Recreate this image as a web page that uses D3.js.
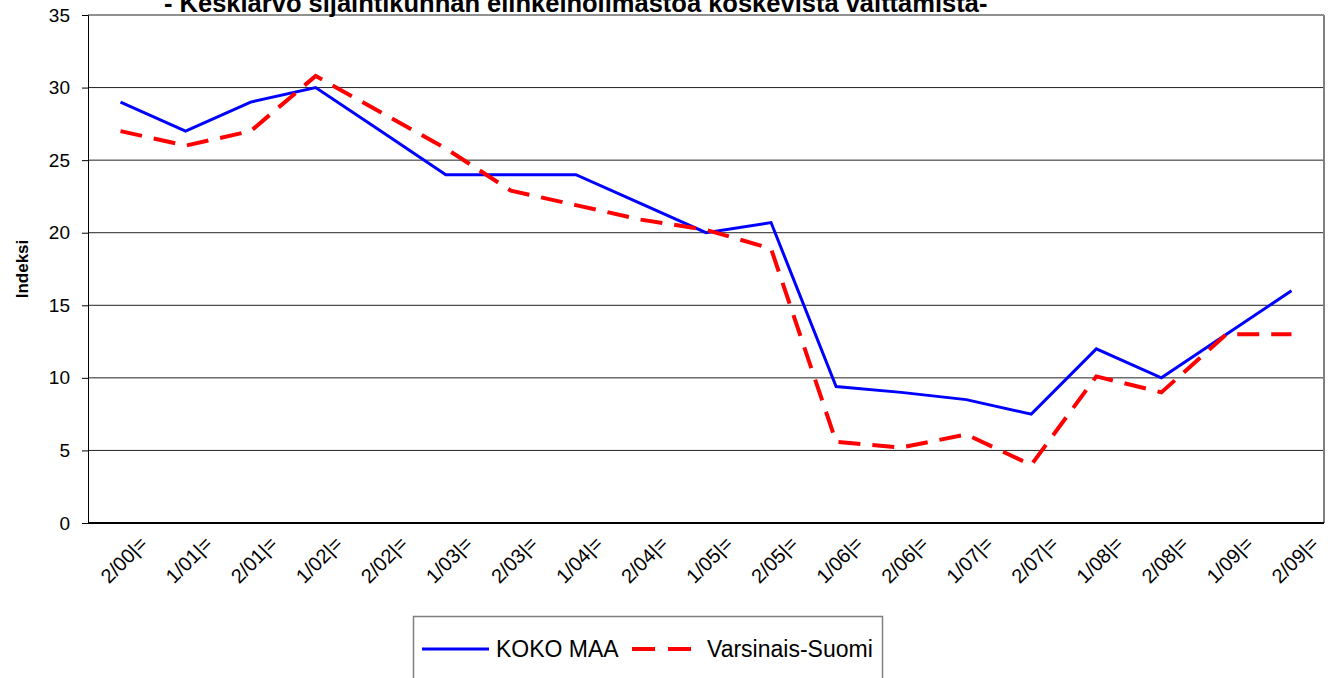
<!DOCTYPE html>
<html>
<head>
<meta charset="utf-8">
<script src="https://cdn.jsdelivr.net/npm/d3@7"></script>
<style>
  body { margin: 0; background: #fff; }
  text { font-family: "Liberation Sans", Arial, sans-serif; }
</style>
</head>
<body>
<div id="chart"></div>
<script>
// Data
var periods = ['2/00', '1/01', '2/01', '1/02', '2/02', '1/03', '2/03', '1/04', '2/04', '1/05',
  '2/05', '1/06', '2/06', '1/07', '2/07', '1/08', '2/08', '1/09', '2/09']
var kokoMaa = [29, 27, 29, 30, 27, 24, 24, 24, 22, 20, 20.7, 9.4, 9, 8.5, 7.5, 12, 10, 13, 16]
var varsinaisSuomi = [27, 26, 27, 30.8, 28.3, 25.8, 22.9, 21.9, 20.9, 20.2, 18.9, 5.6, 5.2, 6.1, 4, 10.1, 9, 13, 13]
var yTicks = [0, 5, 10, 15, 20, 25, 30, 35]

var width = 1328, height = 678
var plotLeft = 88, plotRight = 1324, plotTop = 15, plotBottom = 523

var svg = d3.select('#chart')
  .append('svg')
  .attr('width', width)
  .attr('height', height)

var x = d3.scaleBand().domain(periods).range([plotLeft, plotRight])
var y = d3.scaleLinear().domain([0, 35]).range([plotBottom, plotTop])

// gridlines
svg.append('g')
  .selectAll('line')
  .data(yTicks)
  .join('line')
  .attr('x1', plotLeft)
  .attr('x2', plotRight)
  .attr('y1', d => y(d))
  .attr('y2', d => y(d))
  .attr('stroke', '#222')
  .attr('stroke-width', 1)

// frame
svg.append('line')
  .attr('x1', plotRight).attr('x2', plotRight)
  .attr('y1', plotTop).attr('y2', plotBottom)
  .attr('stroke', '#808080').attr('stroke-width', 2)
svg.append('line')
  .attr('x1', plotLeft).attr('x2', plotRight)
  .attr('y1', plotBottom).attr('y2', plotBottom)
  .attr('stroke', '#000').attr('stroke-width', 2)

// y axis
var yAxis = svg.append('g')
  .attr('transform', 'translate(' + plotLeft + ',0)')
  .call(d3.axisLeft(y).tickValues(yTicks).tickSize(6).tickPadding(12))
yAxis.selectAll('text')
  .attr('font-size', 19)
  .attr('fill', '#000')
yAxis.selectAll('line, path').attr('stroke', '#000')

svg.append('text')
  .text('Indeksi')
  .attr('transform', 'translate(28,' + (plotTop + plotBottom) / 2 + ') rotate(-90)')
  .attr('text-anchor', 'middle')
  .attr('font-size', 17)
  .attr('font-weight', 'bold')

// x labels
svg.append('g')
  .selectAll('text')
  .data(periods)
  .join('text')
  .text(d => d + '|=')
  .attr('transform', d => 'translate(' + (x(d) + x.bandwidth() / 2 + 28) + ',545) rotate(-45)')
  .attr('text-anchor', 'end')
  .attr('font-size', 20)

// lines
var line = d3.line()
  .x((d, i) => x(periods[i]) + x.bandwidth() / 2)
  .y(d => y(d))

svg.append('path')
  .datum(kokoMaa)
  .attr('d', line)
  .attr('fill', 'none')
  .attr('stroke', '#0000ff')
  .attr('stroke-width', 3)

svg.append('path')
  .datum(varsinaisSuomi)
  .attr('d', line)
  .attr('fill', 'none')
  .attr('stroke', '#ff0000')
  .attr('stroke-width', 4)
  .attr('stroke-dasharray', '22,12')

// title (clipped by the top of the page)
svg.append('text')
  .text('- Keskiarvo sijaintikunnan elinkeinoilmastoa koskevista väittämistä-')
  .attr('x', 164)
  .attr('y', 12)
  .attr('font-size', 25.5)
  .attr('font-weight', 'bold')

// legend
var legend = svg.append('g')
legend.append('rect')
  .attr('x', 413.5)
  .attr('y', 616.5)
  .attr('width', 469)
  .attr('height', 80)
  .attr('fill', '#fff')
  .attr('stroke', '#808080')
  .attr('stroke-width', 1.5)

legend.append('line')
  .attr('x1', 422).attr('x2', 489)
  .attr('y1', 649).attr('y2', 649)
  .attr('stroke', '#0000ff').attr('stroke-width', 3)
legend.append('text')
  .text('KOKO MAA')
  .attr('x', 496).attr('y', 657)
  .attr('font-size', 23)

legend.append('line')
  .attr('x1', 632).attr('x2', 692)
  .attr('y1', 649).attr('y2', 649)
  .attr('stroke', '#ff0000').attr('stroke-width', 4)
  .attr('stroke-dasharray', '23,13')
legend.append('text')
  .text('Varsinais-Suomi')
  .attr('x', 707).attr('y', 657)
  .attr('font-size', 23)
</script>
</body>
</html>
